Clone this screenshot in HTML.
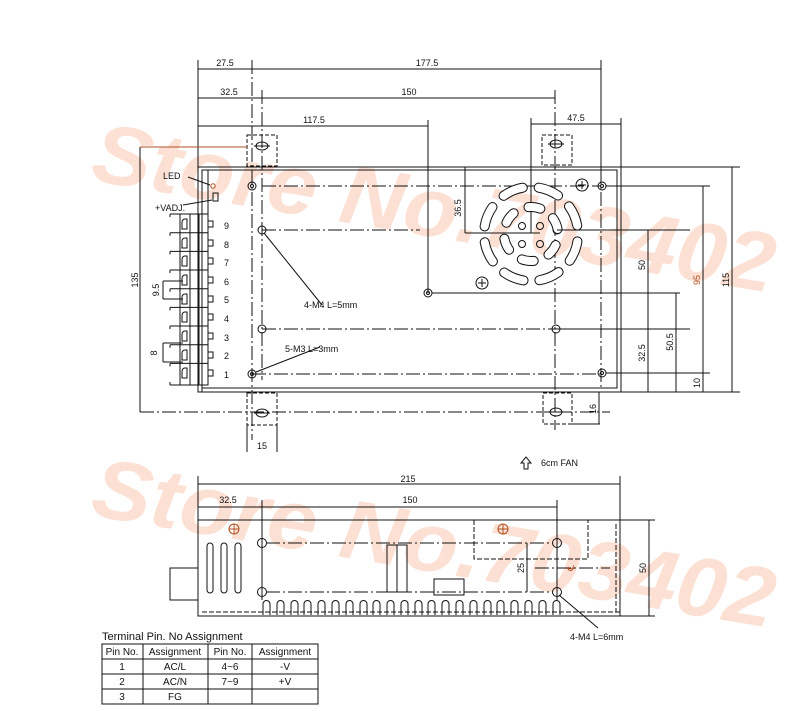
<!DOCTYPE html>
<html><head><meta charset="utf-8"><style>
html,body{margin:0;padding:0;background:#fff;}
svg{display:block;}
text{font-family:"Liberation Sans",sans-serif;fill:#111;}
</style></head><body>
<svg width="800" height="711" viewBox="0 0 800 711" xmlns="http://www.w3.org/2000/svg">
<!-- watermarks -->
<g font-family="Liberation Sans" font-weight="bold" font-style="italic" font-size="84">
<text x="89" y="180" transform="rotate(9.4 89 180)" textLength="690" lengthAdjust="spacingAndGlyphs" style="fill:#fde0d4">Store No.703402</text>
<text x="89" y="515" transform="rotate(9.4 89 515)" textLength="690" lengthAdjust="spacingAndGlyphs" style="fill:#fde0d4">Store No.703402</text>
</g>

<g stroke="#111" stroke-width="1" fill="none">
<!-- ===== TOP VIEW ===== -->
<rect x="198" y="167" width="423" height="225"/>
<polyline points="202,392 202,170 617,170 617,388 202,388"/>
<line x1="198" y1="69" x2="601" y2="69"/>
<line x1="198" y1="98" x2="555" y2="98"/>
<line x1="198" y1="126" x2="428" y2="126"/>
<line x1="531" y1="124" x2="621" y2="124"/>
<line x1="198" y1="60" x2="198" y2="167"/>
<line x1="621" y1="118" x2="621" y2="167"/>
<line x1="531" y1="118" x2="531" y2="233"/>
<line x1="428" y1="120" x2="428" y2="293"/>
<line x1="601" y1="60" x2="601" y2="170"/>
<g stroke-dasharray="14,3,2,3">
<line x1="252" y1="60" x2="252" y2="440"/>
<line x1="262" y1="90" x2="262" y2="380"/>
<line x1="555" y1="90" x2="555" y2="430"/>
<line x1="601" y1="170" x2="601" y2="388"/>
<line x1="262" y1="186" x2="601" y2="186"/>
<line x1="262" y1="230" x2="420" y2="230"/>
<line x1="262" y1="329" x2="601" y2="329"/>
<line x1="252" y1="374" x2="601" y2="374"/>
<line x1="140" y1="412" x2="610" y2="412"/>
</g>
<g stroke-dasharray="4,2">
<rect x="247" y="135" width="30" height="31"/>
<rect x="542" y="135" width="30" height="30"/>
<rect x="247" y="393" width="30" height="32"/>
<rect x="543" y="393" width="29" height="31"/>
</g>
<g>
<ellipse cx="262" cy="146" rx="6" ry="4"/><line x1="254" y1="146" x2="270" y2="146"/>
<ellipse cx="556" cy="144" rx="6" ry="4"/><line x1="548" y1="144" x2="564" y2="144"/>
<ellipse cx="262" cy="413" rx="6" ry="4"/><line x1="254" y1="413" x2="270" y2="413"/>
<ellipse cx="556" cy="412" rx="6" ry="4"/><line x1="548" y1="412" x2="564" y2="412"/>
</g>
<line x1="247" y1="425" x2="247" y2="452"/><line x1="277" y1="425" x2="277" y2="452"/>
<line x1="572" y1="424" x2="600" y2="424"/><line x1="599" y1="392" x2="599" y2="424"/>
<line x1="140" y1="147" x2="140" y2="412"/>
<line x1="140" y1="147" x2="247" y2="147" stroke="#b05020"/>
<g>
<circle cx="252" cy="186" r="4"/><circle cx="252" cy="186" r="1.5"/>
<circle cx="262" cy="230" r="4"/><circle cx="262" cy="329" r="4"/>
<circle cx="252" cy="374" r="4"/><circle cx="252" cy="374" r="1.5"/>
<circle cx="428" cy="293" r="4"/><circle cx="428" cy="293" r="1.5"/>
<circle cx="602" cy="186" r="4"/><circle cx="602" cy="186" r="1.5"/>
<circle cx="602" cy="373" r="4"/><circle cx="602" cy="373" r="1.5"/>
<circle cx="556" cy="329" r="4"/><circle cx="557" cy="230" r="4"/>
</g>
<!-- fan -->
<circle cx="531" cy="234" r="47" stroke-width="10" stroke-linecap="round" stroke-dasharray="21,15.9" transform="rotate(-36 531 234)"/>
<circle cx="531" cy="234" r="47" stroke="#fff" stroke-width="8" stroke-linecap="round" stroke-dasharray="21,15.9" transform="rotate(-36 531 234)"/>
<circle cx="531" cy="234" r="27" stroke-width="10" stroke-linecap="round" stroke-dasharray="12,16.3" transform="rotate(-36 531 234)"/>
<circle cx="531" cy="234" r="27" stroke="#fff" stroke-width="8" stroke-linecap="round" stroke-dasharray="12,16.3" transform="rotate(-36 531 234)"/>
<circle cx="522" cy="226" r="3.5"/><circle cx="540" cy="226" r="3.5"/>
<circle cx="522" cy="244" r="3.5"/><circle cx="540" cy="244" r="3.5"/>
<circle cx="582" cy="185" r="6"/><path d="M578 185h8M582 181v8"/>
<circle cx="482" cy="283" r="6"/><path d="M478 283h8M482 279v8"/>
<line x1="465" y1="233" x2="540" y2="233"/>
<line x1="465" y1="167" x2="465" y2="233"/>
<line x1="557" y1="230" x2="690" y2="230"/>
<line x1="621" y1="167" x2="740" y2="167"/>
<line x1="621" y1="392" x2="740" y2="392"/>
<line x1="606" y1="186" x2="710" y2="186"/>
<line x1="432" y1="293" x2="680" y2="293"/>
<line x1="560" y1="329" x2="690" y2="329"/>
<line x1="606" y1="373" x2="710" y2="373"/>
<line x1="648" y1="230" x2="648" y2="392"/>
<line x1="676" y1="293" x2="676" y2="392"/>
<line x1="703" y1="186" x2="703" y2="392"/>
<line x1="732" y1="167" x2="732" y2="392"/>
<line x1="264" y1="233" x2="322" y2="305"/>
<line x1="320" y1="347" x2="256" y2="372"/>
<line x1="188" y1="177" x2="210" y2="185"/>
<line x1="183" y1="205" x2="212" y2="200"/>
<circle cx="213" cy="186" r="2.2" stroke="#b05020"/>
<rect x="213" y="193" width="5" height="8"/>
<line x1="208" y1="170" x2="208" y2="214"/>
<g>
<rect x="180" y="214" width="28" height="171"/>
<line x1="190" y1="214" x2="190" y2="385"/>
<line x1="199" y1="214" x2="199" y2="385"/>
<path d="M170 214h38M170 232.7h38M170 251.4h38M170 270h38M170 288.7h38M170 307.4h38M170 326h38M170 344.7h38M170 363.4h38M170 385h38"/>
<path d="M170 214v3M170 232.7v3M170 251.4v3M170 270v3M170 288.7v3M170 307.4v3M170 326v3M170 344.7v3M170 363.4v3M170 385v-3"/>
<path d="M187 219h-2a3 3 0 0 0 -3 3v7h5z M187 238h-2a3 3 0 0 0 -3 3v7h5z M187 256h-2a3 3 0 0 0 -3 3v7h5z M187 275h-2a3 3 0 0 0 -3 3v7h5z M187 294h-2a3 3 0 0 0 -3 3v7h5z M187 312h-2a3 3 0 0 0 -3 3v7h5z M187 331h-2a3 3 0 0 0 -3 3v7h5z M187 350h-2a3 3 0 0 0 -3 3v7h5z M187 368h-2a3 3 0 0 0 -3 3v7h5z"/>
<path d="M208 221h5v6h-5M208 240h5v6h-5M208 258h5v6h-5M208 277h5v6h-5M208 296h5v6h-5M208 314h5v6h-5M208 333h5v6h-5M208 352h5v6h-5M208 370h5v6h-5"/>
<path d="M163 281v18M163 281h20M163 299h20"/>
<path d="M163 343v19M163 343h20M163 362h20"/>
</g>

<!-- ===== SIDE VIEW ===== -->
<rect x="198" y="520" width="422" height="96"/>
<line x1="202" y1="612" x2="620" y2="612" stroke-dasharray="5,2"/>
<line x1="616" y1="524" x2="616" y2="612" stroke-dasharray="5,2"/>
<rect x="474" y="520" width="114" height="39" stroke-dasharray="5,2"/>
<line x1="198" y1="484" x2="620" y2="484"/>
<line x1="198" y1="507" x2="557" y2="507"/>
<line x1="198" y1="476" x2="198" y2="520"/>
<line x1="620" y1="476" x2="620" y2="520"/>
<line x1="262" y1="500" x2="262" y2="600"/>
<line x1="557" y1="500" x2="557" y2="600"/>
<line x1="620" y1="520" x2="655" y2="520"/>
<line x1="620" y1="616" x2="655" y2="616"/>
<line x1="649" y1="520" x2="649" y2="616"/>
<line x1="527" y1="543" x2="527" y2="592"/>
<g stroke-dasharray="14,3,2,3">
<line x1="266" y1="543" x2="553" y2="543"/>
<line x1="266" y1="592" x2="553" y2="592"/>
<line x1="535" y1="568" x2="610" y2="568"/>
</g>
<circle cx="262" cy="543" r="4.5"/><circle cx="262" cy="592" r="4.5"/>
<circle cx="557" cy="543" r="4.5"/><circle cx="557" cy="592" r="4.5"/>
<circle cx="234" cy="529" r="5" stroke="#b05020"/><path d="M229 529h10M234 524v10" stroke="#b05020"/>
<circle cx="503" cy="529" r="5" stroke="#b05020"/><path d="M498 529h10M503 524v10" stroke="#b05020"/>
<rect x="207" y="543" width="6" height="50" rx="3"/>
<rect x="221" y="543" width="6" height="50" rx="3"/>
<rect x="235" y="543" width="6" height="50" rx="3"/>
<rect x="170" y="568" width="28" height="32"/>
<rect x="387" y="545" width="20" height="47"/>
<line x1="397" y1="545" x2="397" y2="592"/>
<rect x="434" y="579" width="30" height="16"/>
<line x1="559" y1="595" x2="598" y2="628"/>
<path d="M263 615v-11a3.5 3.5 0 0 1 7 0v11 M277 615v-11a3.5 3.5 0 0 1 7 0v11 M291 615v-11a3.5 3.5 0 0 1 7 0v11 M304 615v-11a3.5 3.5 0 0 1 7 0v11 M318 615v-11a3.5 3.5 0 0 1 7 0v11 M332 615v-11a3.5 3.5 0 0 1 7 0v11 M346 615v-11a3.5 3.5 0 0 1 7 0v11 M360 615v-11a3.5 3.5 0 0 1 7 0v11 M373 615v-11a3.5 3.5 0 0 1 7 0v11 M387 615v-11a3.5 3.5 0 0 1 7 0v11 M401 615v-11a3.5 3.5 0 0 1 7 0v11 M415 615v-11a3.5 3.5 0 0 1 7 0v11 M428 615v-11a3.5 3.5 0 0 1 7 0v11 M442 615v-11a3.5 3.5 0 0 1 7 0v11 M456 615v-11a3.5 3.5 0 0 1 7 0v11 M470 615v-11a3.5 3.5 0 0 1 7 0v11 M484 615v-11a3.5 3.5 0 0 1 7 0v11 M497 615v-11a3.5 3.5 0 0 1 7 0v11 M511 615v-11a3.5 3.5 0 0 1 7 0v11 M525 615v-11a3.5 3.5 0 0 1 7 0v11 M539 615v-11a3.5 3.5 0 0 1 7 0v11 M553 615v-11a3.5 3.5 0 0 1 7 0v11"/>
<path d="M524 469v-6h-3l5-6 5 6h-3v6z"/>
<rect x="102" y="644" width="216" height="60"/>
<path d="M102 659h216M102 674h216M102 689h216M143 644v60M208 644v60M252 644v60"/>
</g>

<g font-size="9">
<text x="225" y="66" text-anchor="middle">27.5</text>
<text x="427" y="66" text-anchor="middle">177.5</text>
<text x="229" y="95" text-anchor="middle">32.5</text>
<text x="409" y="95" text-anchor="middle">150</text>
<text x="314" y="123" text-anchor="middle">117.5</text>
<text x="576" y="121" text-anchor="middle">47.5</text>
<text x="163" y="179">LED</text>
<text x="155" y="211">+VADJ.</text>
<text x="304" y="308">4-M4 L=5mm</text>
<text x="285" y="352">5-M3 L=3mm</text>
<text x="262" y="449" text-anchor="middle">15</text>
<text x="541" y="466">6cm FAN</text>
<text x="408" y="482" text-anchor="middle">215</text>
<text x="228" y="503" text-anchor="middle">32.5</text>
<text x="410" y="503" text-anchor="middle">150</text>
<text x="570" y="640">4-M4 L=6mm</text>
<g>
<text x="224" y="229">9</text><text x="224" y="248">8</text><text x="224" y="266">7</text>
<text x="224" y="285">6</text><text x="224" y="303">5</text><text x="224" y="322">4</text>
<text x="224" y="341">3</text><text x="224" y="359">2</text><text x="224" y="378">1</text>
</g>
<text transform="translate(138 280) rotate(-90)" text-anchor="middle">135</text>
<text transform="translate(159 290) rotate(-90)" text-anchor="middle">9.5</text>
<text transform="translate(157 353) rotate(-90)" text-anchor="middle">8</text>
<text transform="translate(461 208) rotate(-90)" text-anchor="middle">36.5</text>
<text transform="translate(645 265) rotate(-90)" text-anchor="middle">50</text>
<text transform="translate(645 353) rotate(-90)" text-anchor="middle">32.5</text>
<text transform="translate(673 342) rotate(-90)" text-anchor="middle">50.5</text>
<text transform="translate(700 280) rotate(-90)" text-anchor="middle" style="fill:#b05020">95</text>
<text transform="translate(700 383) rotate(-90)" text-anchor="middle">10</text>
<text transform="translate(729 280) rotate(-90)" text-anchor="middle">115</text>
<text transform="translate(596 409) rotate(-90)" text-anchor="middle">16</text>
<text transform="translate(524 568) rotate(-90)" text-anchor="middle">25</text>
<text transform="translate(646 568) rotate(-90)" text-anchor="middle">50</text>
<text transform="translate(574 568) rotate(-90)" text-anchor="middle" style="fill:#b05020">℄</text>
</g>
<g font-size="10">
<text x="102" y="640" font-size="11">Terminal Pin. No Assignment</text>
<text x="122" y="655" text-anchor="middle">Pin No.</text>
<text x="175" y="655" text-anchor="middle">Assignment</text>
<text x="230" y="655" text-anchor="middle">Pin No.</text>
<text x="285" y="655" text-anchor="middle">Assignment</text>
<text x="122" y="670" text-anchor="middle">1</text>
<text x="175" y="670" text-anchor="middle">AC/L</text>
<text x="230" y="670" text-anchor="middle">4~6</text>
<text x="285" y="670" text-anchor="middle">-V</text>
<text x="122" y="685" text-anchor="middle">2</text>
<text x="175" y="685" text-anchor="middle">AC/N</text>
<text x="230" y="685" text-anchor="middle">7~9</text>
<text x="285" y="685" text-anchor="middle">+V</text>
<text x="122" y="700" text-anchor="middle">3</text>
<text x="175" y="700" text-anchor="middle">FG</text>
</g>
</svg>
</body></html>
